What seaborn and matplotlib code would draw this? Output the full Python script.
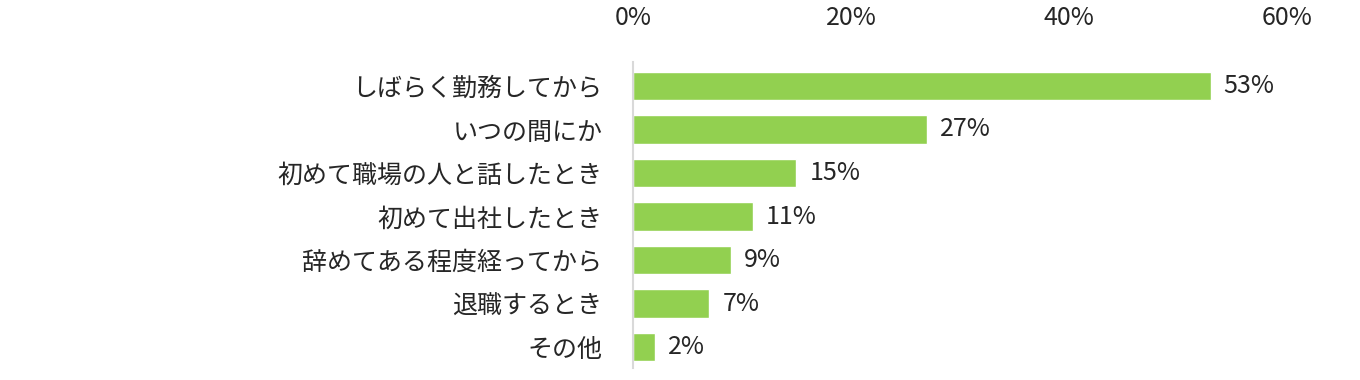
import numpy as np
import pandas as pd
import seaborn as sns
import matplotlib.pyplot as plt
from matplotlib.ticker import FuncFormatter

# =============================================================================
# Data
# =============================================================================

categories = [
    "しばらく勤務してから",
    "いつの間にか",
    "初めて職場の人と話したとき",
    "初めて出社したとき",
    "辞めてある程度経ってから",
    "退職するとき",
    "その他",
]
values = [53, 27, 15, 11, 9, 7, 2]
x_ticks = [0, 20, 40, 60]

df = pd.DataFrame({"category": categories, "value": values})

# =============================================================================
# Style
# =============================================================================

sns.set_style("white")
plt.rcParams["font.family"] = ["Noto Sans CJK JP", "DejaVu Sans"]

bar_color = "#92D050"
text_color = "#262626"
fs = 18

fig = plt.figure(figsize=(13.6, 3.8), dpi=100)
ax = fig.add_axes([0.4654, 0.0316, 0.4809, 0.8052])

sns.barplot(
    data=df,
    x="value",
    y="category",
    orient="h",
    color=bar_color,
    width=0.65,
    saturation=1,
    ax=ax
)

# value labels
for i, v in enumerate(values):
    ax.text(v + 1.2, i, f"{v}%", va="center", ha="left",
            fontsize=fs, color=text_color)

ax.set_xlim(0, 60)
ax.set_ylim(6.48, -0.55)
ax.set_xticks(x_ticks)
ax.xaxis.set_major_formatter(FuncFormatter(lambda x, _: f"{x:.0f}%"))
ax.xaxis.tick_top()
ax.tick_params(axis="x", length=0, pad=22, labelsize=fs, labelcolor=text_color)
ax.tick_params(axis="y", length=0, pad=22, labelsize=fs, labelcolor=text_color)

ax.set_xlabel("")
ax.set_ylabel("")

for side in ["top", "right", "bottom"]:
    ax.spines[side].set_visible(False)
ax.spines["left"].set_color("#d9d9d9")
ax.spines["left"].set_linewidth(1.5)

plt.savefig("out.png", dpi=100)
